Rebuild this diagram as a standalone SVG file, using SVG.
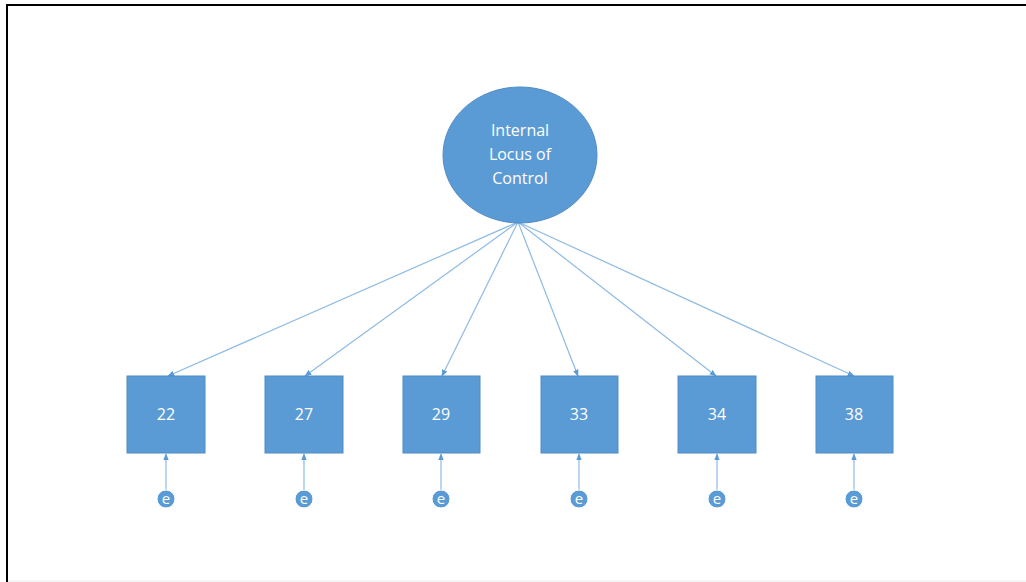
<svg xmlns="http://www.w3.org/2000/svg" width="1026" height="582" viewBox="0 0 1026 582">
<defs>
<marker id="ah" viewBox="0 0 10 10" refX="9" refY="5" markerWidth="7" markerHeight="7" markerUnits="userSpaceOnUse" orient="auto">
<path d="M0,1 L10,5 L0,9 z" fill="#5B9BD5"/>
</marker>
<style>
.box{fill:#5B9BD5;stroke:#4F8CC6;stroke-width:1}
.lbl{font-family:"Open Sans","Liberation Sans",sans-serif;font-size:16px;fill:#ffffff;text-anchor:middle}
.conn{stroke:#8DBAE3;stroke-width:1.2;fill:none;marker-end:url(#ah)}
.err{fill:#5B9BD5;stroke:#ffffff;stroke-width:1}
.el{font-family:"Open Sans","Liberation Sans",sans-serif;font-size:15px;fill:#ffffff;text-anchor:middle}
</style>
</defs>
<rect width="1026" height="582" fill="#ffffff"/>
<path d="M7,582 V5 H1026" fill="none" stroke="#000" stroke-width="2"/>
<line x1="8" y1="581" x2="1026" y2="581" stroke="#eeeeee" stroke-width="1"/>

<g id="connectors">
<line class="conn" x1="518" y1="222" x2="168" y2="376"/>
<line class="conn" x1="518" y1="222" x2="305" y2="376"/>
<line class="conn" x1="518" y1="222" x2="442" y2="376"/>
<line class="conn" x1="518" y1="222" x2="578" y2="376"/>
<line class="conn" x1="518" y1="222" x2="716" y2="376"/>
<line class="conn" x1="518" y1="222" x2="854" y2="376"/>
<line class="conn" x1="166" y1="490" x2="166" y2="454"/>
<line class="conn" x1="304" y1="490" x2="304" y2="454"/>
<line class="conn" x1="441" y1="490" x2="441" y2="454"/>
<line class="conn" x1="579" y1="490" x2="579" y2="454"/>
<line class="conn" x1="717" y1="490" x2="717" y2="454"/>
<line class="conn" x1="854" y1="490" x2="854" y2="454"/>
</g>

<g id="latent">
<ellipse cx="520" cy="155" rx="77" ry="68" fill="#5B9BD5" stroke="#4F8CC6" stroke-width="1"/>
<text class="lbl" x="520" y="136">Internal</text>
<text class="lbl" x="520" y="160">Locus of</text>
<text class="lbl" x="520" y="184">Control</text>
</g>

<g id="item22"><rect class="box" x="127" y="376" width="78" height="77"/><text class="lbl" x="166" y="420">22</text></g>
<g id="item27"><rect class="box" x="265" y="376" width="78" height="77"/><text class="lbl" x="304" y="420">27</text></g>
<g id="item29"><rect class="box" x="403" y="376" width="77" height="77"/><text class="lbl" x="441" y="420">29</text></g>
<g id="item33"><rect class="box" x="541" y="376" width="77" height="77"/><text class="lbl" x="579" y="420">33</text></g>
<g id="item34"><rect class="box" x="678" y="376" width="78" height="77"/><text class="lbl" x="717" y="420">34</text></g>
<g id="item38"><rect class="box" x="816" y="376" width="77" height="77"/><text class="lbl" x="854" y="420">38</text></g>

<g id="e22"><circle class="err" cx="166" cy="499" r="9"/><text class="el" x="166" y="504">e</text></g>
<g id="e27"><circle class="err" cx="304" cy="499" r="9"/><text class="el" x="304" y="504">e</text></g>
<g id="e29"><circle class="err" cx="441" cy="499" r="9"/><text class="el" x="441" y="504">e</text></g>
<g id="e33"><circle class="err" cx="579" cy="499" r="9"/><text class="el" x="579" y="504">e</text></g>
<g id="e34"><circle class="err" cx="717" cy="499" r="9"/><text class="el" x="717" y="504">e</text></g>
<g id="e38"><circle class="err" cx="854" cy="499" r="9"/><text class="el" x="854" y="504">e</text></g>
</svg>
